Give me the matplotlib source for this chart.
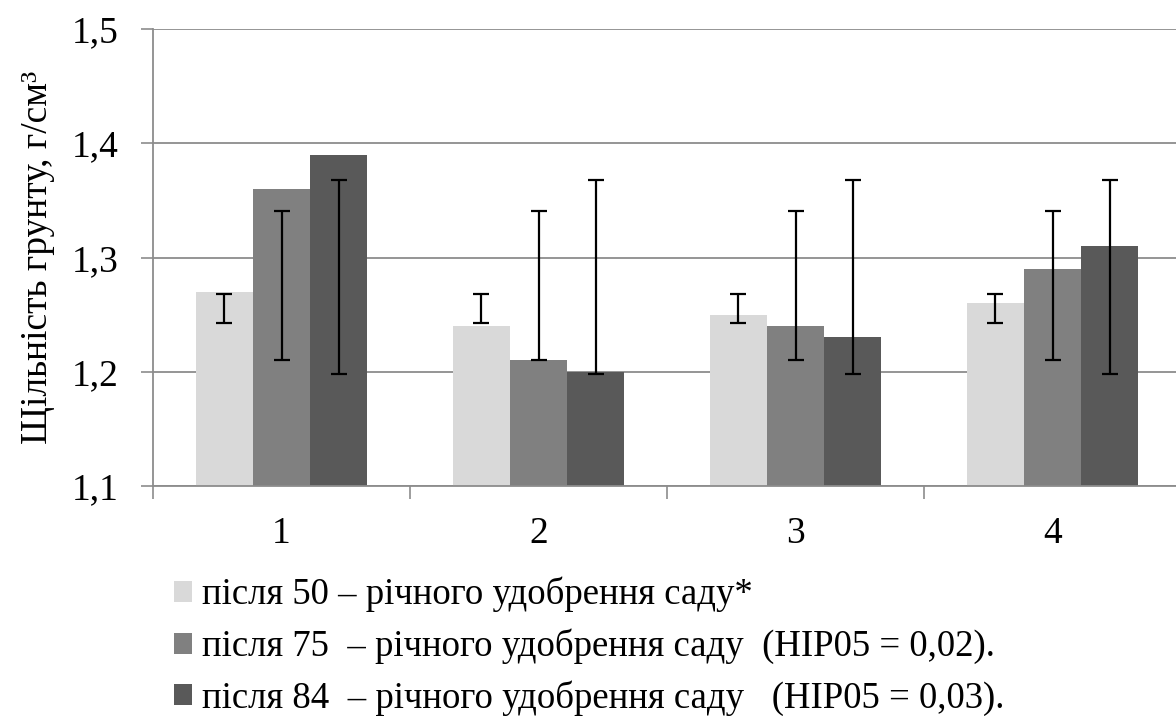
import matplotlib
matplotlib.use("Agg")
import matplotlib.pyplot as plt
import numpy as np
from matplotlib.patches import Patch

plt.rcParams['font.family'] = 'serif'
plt.rcParams['font.serif'] = ['Liberation Serif', 'DejaVu Serif']

categories = ["1", "2", "3", "4"]
series_labels = [
    "після 50 – річного удобрення саду*",
    "після 75  – річного удобрення саду  (НІР05 = 0,02).",
    "після 84  – річного удобрення саду   (НІР05 = 0,03).",
]
density_50 = [1.27, 1.24, 1.25, 1.26]
density_75 = [1.36, 1.21, 1.24, 1.29]
density_84 = [1.39, 1.20, 1.23, 1.31]
# whisker extents drawn for each series (same for every group)
err_low = [1.243, 1.210, 1.198]
err_high = [1.268, 1.341, 1.368]
colors = ["#d9d9d9", "#808080", "#595959"]
yticks = [1.1, 1.2, 1.3, 1.4, 1.5]
ytick_labels = ["1,1", "1,2", "1,3", "1,4", "1,5"]

W, H = 1176, 716
fig = plt.figure(figsize=(W / 100, H / 100), dpi=100)
ax = fig.add_axes([153 / W, 1 - 486 / H, 1028 / W, (486 - 29) / H])

x = np.arange(len(categories))
bw = 0.222
data = [density_50, density_75, density_84]
for i, (vals, col) in enumerate(zip(data, colors)):
    pos = x + (i - 1) * bw
    ax.bar(pos, np.array(vals) - 1.1, bottom=1.1, width=bw, color=col,
           edgecolor="none", zorder=2)
    mid = (err_low[i] + err_high[i]) / 2
    half = (err_high[i] - err_low[i]) / 2
    ax.errorbar(pos, [mid] * len(pos), yerr=half, fmt="none", ecolor="black",
                elinewidth=1.6, capsize=6, capthick=1.6, zorder=3)

ax.set_xlim(-0.5, 3.5)
ax.set_ylim(1.1, 1.5)
ax.set_yticks(yticks)
ax.set_yticklabels(ytick_labels)
ax.set_xticks(x)
ax.set_xticklabels(categories)
ax.set_xticks(np.arange(-0.5, 3.6, 1.0), minor=True)
ax.tick_params(axis="x", which="major", length=0, pad=22, labelsize=27)
ax.tick_params(axis="x", which="minor", length=9, width=1.2, color="#8c8c8c")
ax.tick_params(axis="y", length=9, width=1.2, color="#8c8c8c", labelsize=27, pad=16)
ax.yaxis.grid(True, color="#8c8c8c", linewidth=1.3, zorder=0)
ax.set_axisbelow(True)
for s in ["top", "right"]:
    ax.spines[s].set_visible(False)
for s in ["left", "bottom"]:
    ax.spines[s].set_color("#8c8c8c")
    ax.spines[s].set_linewidth(1.3)

ax.set_ylabel("Щільність грунту, г/см³", fontsize=27, labelpad=12)

handles = [Patch(facecolor=c, edgecolor="none") for c in colors]
fig.legend(handles, series_labels, loc="upper left",
           bbox_to_anchor=(174 / W, 1 - 577 / H), frameon=False,
           fontsize=26.5, handlelength=0.5, handleheight=0.5,
           handletextpad=0.27, labelspacing=0.44, borderpad=0, borderaxespad=0)

fig.savefig("out.png", dpi=100)
